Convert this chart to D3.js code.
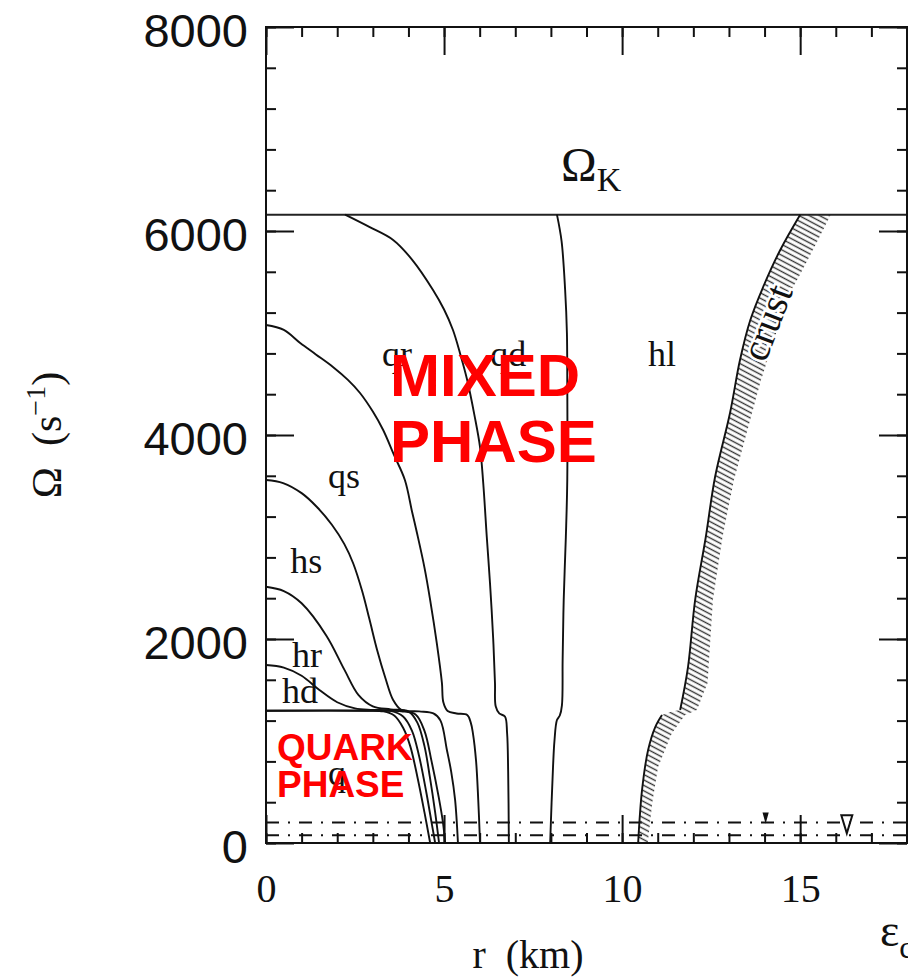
<!DOCTYPE html>
<html>
<head>
<meta charset="utf-8">
<script src="https://cdn.jsdelivr.net/npm/d3@7"></script>
<style>
  body { margin: 0; background: #fff; }
  svg { display: block; }
  .serif { font-family: "Liberation Serif", "Times New Roman", serif; }
</style>
</head>
<body>
<div id="chart"></div>
<script>
const width = 908;
const height = 980;

// axis ticks
const xMajor = [0, 5, 10, 15];
const xMinor = d3.range(0, 19, 1);
const yMajor = [0, 2000, 4000, 6000, 8000];
const yMinor = d3.range(0, 8001, 400);

// Kepler frequency
const omegaK = 6160;

// pulsar frequencies (dash-dot lines)
const pulsarLines = [200, 75];

// phase boundaries, [r (km), Omega (1/s)]
const qBound = [[0,1297],[2.8,1297],[3.3,1290],[3.6,1250],[3.85,1130],[4.05,950],[4.25,650],[4.45,300],[4.61,0]];
const hdBound = [[0,1745],[0.5,1720],[1.0,1640],[1.5,1500],[2.0,1380],[2.5,1320],[3.0,1305],[3.5,1295],[3.85,1240],[4.1,1100],[4.3,850],[4.5,500],[4.65,200],[4.75,0]];
const hrBound = [[0,2512],[0.5,2470],[1.0,2350],[1.7,2030],[2.2,1700],[2.6,1450],[3.0,1340],[3.5,1310],[4.0,1290],[4.25,1180],[4.45,950],[4.6,650],[4.75,300],[4.86,0]];
const mixBound = [[0,1297],[3.2,1297],[3.8,1292],[4.2,1260],[4.45,1100],[4.65,800],[4.85,450],[4.97,200],[5.03,0]];
const hsBound = [[0,3559],[0.48,3529],[1.0,3430],[1.43,3294],[1.85,3120],[2.2,2930],[2.45,2740],[2.7,2470],[2.9,2200],[3.12,1892],[3.35,1620],[3.57,1402],[3.8,1305],[4.3,1290],[4.7,1270],[4.9,1200],[5.08,912],[5.2,700],[5.31,422],[5.39,0]];
const qsBound = [[0,5078],[0.5,5030],[0.96,4902],[1.4,4790],[1.88,4667],[2.3,4540],[2.64,4412],[3.0,4230],[3.29,4049],[3.6,3800],[3.9,3559],[4.1,3250],[4.24,3039],[4.45,2700],[4.61,2382],[4.8,1950],[4.94,1569],[4.98,1380],[5.1,1295],[5.35,1270],[5.65,1255],[5.75,1180],[5.81,1078],[5.9,800],[5.96,422],[6.01,0]];
const qrBound = [[2.22,6160],[2.9,6040],[3.57,5912],[4.1,5720],[4.69,5422],[5.0,5230],[5.25,5029],[5.45,4800],[5.65,4539],[5.85,4200],[6.01,3882],[6.1,3529],[6.2,3000],[6.29,2549],[6.38,2000],[6.43,1569],[6.45,1340],[6.55,1270],[6.71,1240],[6.77,1078],[6.8,700],[6.82,0]];
const qdBound = [[8.17,6160],[8.3,5900],[8.4,5422],[8.45,5000],[8.46,4539],[8.46,3559],[8.42,3000],[8.36,2382],[8.33,1800],[8.31,1350],[8.25,1250],[8.17,1206],[8.1,1000],[8.06,745],[8.02,400],[7.98,0]];

const boundaries = [qBound, hdBound, hrBound, mixBound, hsBound, qsBound, qrBound, qdBound];

// crust: inner edge (solid) and outer edge
const crustInnerLow = [[10.45,0],[10.56,520],[10.73,912],[10.93,1137],[11.12,1255]];
const crustStep = [[11.4,1290]];
const crustInnerHigh = [[11.63,1304],[11.85,1725],[12.05,2382],[12.35,3000],[12.61,3588],[13.03,4216],[13.31,4735],[13.6,5127],[13.96,5451],[14.44,5814],[15.0,6160]];
const crustOuter = [[15.86,6160],[15.4,5843],[15.02,5588],[14.65,5353],[13.9,4539],[13.14,3559],[12.82,3000],[12.55,2382],[12.46,1900],[12.4,1569],[12.1,1304],[11.77,1255],[11.4,1078],[11.01,745],[10.85,400],[10.72,0]];

// markers on the pulsar lines
const markers = [
  { r: 14.03, top: 290, tip: 225, half: 1.8, fill: "#000" },
  { r: 16.31, top: 272, tip: 95, half: 5.5, fill: "none" }
];

// region labels [text, r, Omega of baseline]
const regionLabels = [
  ["qr", 3.26, 4680], ["qd", 6.3, 4680], ["hl", 10.73, 4680],
  ["qs", 1.74, 3480], ["hs", 0.68, 2650], ["hr", 0.73, 1725],
  ["hd", 0.45, 1370], ["q", 1.74, 570]
];

const x = d3.scaleLinear().domain([0, 18]).range([266, 907]);
const y = d3.scaleLinear().domain([0, 8000]).range([843, 27]);

const svg = d3.select("#chart").append("svg")
  .attr("width", width)
  .attr("height", height);

const defs = svg.append("defs");
const hatch = defs.append("pattern")
  .attr("id", "hatch")
  .attr("patternUnits", "userSpaceOnUse")
  .attr("width", 8).attr("height", 4.8)
  .attr("patternTransform", "rotate(28)");
hatch.append("line")
  .attr("x1", 0).attr("y1", 2.4).attr("x2", 8).attr("y2", 2.4)
  .attr("stroke", "#333").attr("stroke-width", 1.4);

const lineX = d3.line().x(d => x(d[0])).y(d => y(d[1])).curve(d3.curveCatmullRom.alpha(0.5));

// ticks
function tickAxis(axis, values, size) {
  return axis.tickValues(values).tickSize(-size).tickFormat("");
}
const axes = svg.append("g").attr("class", "axes");
axes.append("g").attr("transform", "translate(0,843)").call(tickAxis(d3.axisBottom(x), xMinor, 10));
axes.append("g").attr("transform", "translate(0,843)").call(tickAxis(d3.axisBottom(x), xMajor, 28));
axes.append("g").attr("transform", "translate(0,27)").call(tickAxis(d3.axisTop(x), xMinor, 10));
axes.append("g").attr("transform", "translate(0,27)").call(tickAxis(d3.axisTop(x), xMajor, 28));
axes.append("g").attr("transform", "translate(266,0)").call(tickAxis(d3.axisLeft(y), yMinor, 10));
axes.append("g").attr("transform", "translate(266,0)").call(tickAxis(d3.axisLeft(y), yMajor, 28));
axes.append("g").attr("transform", "translate(907,0)").call(tickAxis(d3.axisRight(y), yMinor, 10));
axes.append("g").attr("transform", "translate(907,0)").call(tickAxis(d3.axisRight(y), yMajor, 28));
axes.selectAll(".domain").remove();
axes.selectAll(".tick line").attr("stroke", "#111").attr("stroke-width", 2);

// tick labels
const yLab = axes.append("g").attr("transform", "translate(266,0)")
  .call(d3.axisLeft(y).tickValues(yMajor).tickFormat(d3.format("d")).tickSize(0).tickPadding(18));
yLab.select(".domain").remove();
yLab.selectAll("text")
  .attr("font-family", "'Liberation Sans', Arial, sans-serif")
  .attr("font-size", 47).attr("fill", "#111").attr("dy", "0.42em");

const xLab = axes.append("g").attr("transform", "translate(0,843)")
  .call(d3.axisBottom(x).tickValues(xMajor).tickSize(0).tickPadding(31));
xLab.select(".domain").remove();
xLab.selectAll("text")
  .attr("font-family", "'Liberation Serif', serif")
  .attr("font-size", 40).attr("fill", "#111");

// pulsar dash-dot lines
svg.append("g").selectAll("line").data(pulsarLines).join("line")
  .attr("x1", x(0)).attr("x2", x(18))
  .attr("y1", d => y(d)).attr("y2", d => y(d))
  .attr("stroke", "#111").attr("stroke-width", 2)
  .attr("stroke-dasharray", "13,9,2,9");

// Kepler line
svg.append("line")
  .attr("x1", x(0)).attr("x2", x(18))
  .attr("y1", y(omegaK)).attr("y2", y(omegaK))
  .attr("stroke", "#222").attr("stroke-width", 2);

// phase boundaries
svg.append("g").selectAll("path").data(boundaries).join("path")
  .attr("d", lineX)
  .attr("fill", "none").attr("stroke", "#111").attr("stroke-width", 1.9);

// crust
const crustPoly = crustInnerLow.concat(crustStep, crustInnerHigh, crustOuter);
svg.append("path")
  .attr("d", d3.line().x(d => x(d[0])).y(d => y(d[1]))(crustPoly) + "Z")
  .attr("fill", "url(#hatch)").attr("stroke", "none");
[crustInnerLow, crustInnerHigh].forEach(seg => {
  svg.append("path").attr("d", lineX(seg))
    .attr("fill", "none").attr("stroke", "#111").attr("stroke-width", 1.9);
});

// markers
svg.append("g").selectAll("path").data(markers).join("path")
  .attr("d", d => `M${x(d.r) - d.half},${y(d.top)}L${x(d.r) + d.half},${y(d.top)}L${x(d.r)},${y(d.tip)}Z`)
  .attr("fill", d => d.fill).attr("stroke", "#111").attr("stroke-width", 2);

// frame
svg.append("rect")
  .attr("x", x(0)).attr("y", y(8000))
  .attr("width", x(18) - x(0)).attr("height", y(0) - y(8000))
  .attr("fill", "none").attr("stroke", "#111").attr("stroke-width", 2);

// region labels
svg.append("g").selectAll("text").data(regionLabels).join("text")
  .attr("class", "serif")
  .attr("x", d => x(d[1])).attr("y", d => y(d[2]))
  .attr("font-size", 36).attr("fill", "#111")
  .text(d => d[0]);

// crust label
svg.append("text")
  .attr("class", "serif")
  .attr("transform", "translate(768,323) rotate(-69)")
  .attr("text-anchor", "middle").attr("dy", "0.3em")
  .attr("font-size", 40).attr("fill", "#111")
  .attr("stroke", "#fff").attr("stroke-width", 5).attr("paint-order", "stroke")
  .text("crust");

// Omega_K label
const ok = svg.append("text").attr("class", "serif")
  .attr("x", 561).attr("y", 181).attr("font-size", 48).attr("fill", "#111");
ok.append("tspan").text("Ω");
ok.append("tspan").attr("font-size", 34).attr("dy", 10).text("K");

// axis titles
svg.append("text").attr("class", "serif")
  .attr("x", 528).attr("y", 968).attr("text-anchor", "middle")
  .attr("font-size", 40).attr("fill", "#111")
  .attr("xml:space", "preserve")
  .text("r  (km)");

const yt = svg.append("text").attr("class", "serif")
  .attr("transform", "translate(61,435) rotate(-90)")
  .attr("text-anchor", "middle")
  .attr("font-size", 42).attr("fill", "#111")
  .attr("xml:space", "preserve");
yt.append("tspan").text("Ω  (s");
yt.append("tspan").attr("font-size", 28).attr("dy", -16).text("−1");
yt.append("tspan").attr("dy", 16).text(")");

const eps = svg.append("text").attr("class", "serif")
  .attr("x", 880).attr("y", 946).attr("font-size", 46).attr("fill", "#111");
eps.append("tspan").text("ε");
eps.append("tspan").attr("font-size", 32).attr("dy", 12).text("c");

// phase annotations
const red = svg.append("g")
  .attr("font-family", "'Liberation Sans', Arial, sans-serif")
  .attr("font-weight", "bold").attr("fill", "#ff0000");
red.append("text").attr("x", 390).attr("y", 396).attr("font-size", 60).text("MIXED");
red.append("text").attr("x", 390).attr("y", 462).attr("font-size", 60).text("PHASE");
red.append("text").attr("x", 277).attr("y", 760).attr("font-size", 37).text("QUARK");
red.append("text").attr("x", 277).attr("y", 797).attr("font-size", 37).text("PHASE");
</script>
</body>
</html>
